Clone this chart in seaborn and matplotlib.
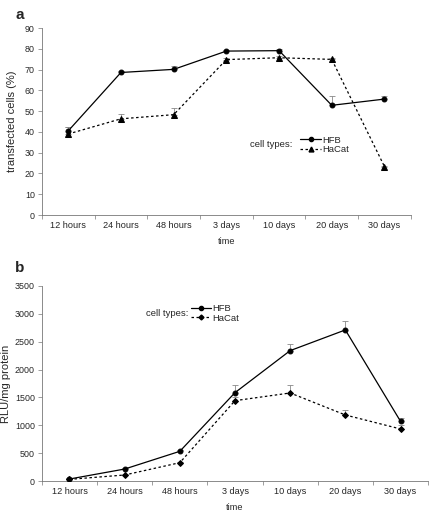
import numpy as np
import pandas as pd
import seaborn as sns
import matplotlib
matplotlib.use('Agg')
import matplotlib.pyplot as plt
from matplotlib.lines import Line2D

# data
time_labels = ['12 hours', '24 hours', '48 hours', '3 days', '10 days', '20 days', '30 days']

# panel a: transfected cells (%)
a_hfb = [40.5, 68.6, 70.1, 78.9, 79.1, 52.8, 55.8]
a_hfb_err = [2.0, 0.8, 1.5, 0.6, 0.9, 4.6, 1.3]
a_hacat = [39.0, 46.3, 48.3, 74.8, 75.7, 74.9, 23.3]
a_hacat_err = [3.3, 2.3, 3.2, 1.0, 1.0, 0.5, 0.5]

# panel b: RLU/mg protein
b_hfb = [36, 215, 533, 1586, 2340, 2711, 1071]
b_hfb_err = [10, 20, 30, 137, 125, 161, 60]
b_hacat = [30, 108, 329, 1442, 1580, 1185, 934]
b_hacat_err = [5, 10, 20, 60, 143, 95, 70]

sns.set_style('ticks')
plt.rcParams['font.family'] = ['Liberation Sans', 'DejaVu Sans']

fig = plt.figure(figsize=(4.32, 5.16), dpi=100)
ax_a = fig.add_axes([0.097, 0.5833, 0.854, 0.3624])
ax_b = fig.add_axes([0.097, 0.0678, 0.894, 0.378])


def draw_panel(ax, hfb, hfb_err, hacat, hacat_err, hacat_marker, hacat_ms):
    df = pd.DataFrame({'time': time_labels, 'HFB': hfb, 'HaCat': hacat})
    x = np.arange(len(time_labels))
    # only the upper half of the error bars is shown
    ax.errorbar(x, hfb, yerr=[np.zeros(len(x)), hfb_err], fmt='none',
                ecolor='#888888', elinewidth=0.6, capsize=2, capthick=0.6, zorder=1)
    ax.errorbar(x, hacat, yerr=[np.zeros(len(x)), hacat_err], fmt='none',
                ecolor='#888888', elinewidth=0.6, capsize=2, capthick=0.6, zorder=1)
    sns.lineplot(data=df, x='time', y='HFB', ax=ax, color='black', lw=0.9,
                 marker='o', markersize=3.5, markeredgecolor='black', sort=False, zorder=3)
    sns.lineplot(data=df, x='time', y='HaCat', ax=ax, color='black', lw=0.9,
                 linestyle=(0, (2, 2)), marker=hacat_marker, markersize=hacat_ms,
                 markeredgecolor='black', sort=False, zorder=3)
    ax.set_xlim(-0.5, len(time_labels) - 0.5)
    ax.set_xticks(x)
    ax.set_xticklabels(time_labels, fontsize=6.6)
    ax.set_xticks(np.arange(-0.5, len(time_labels)), minor=True)
    ax.tick_params(axis='x', which='major', length=0, pad=4)
    ax.tick_params(axis='x', which='minor', length=3, width=0.5, color='#777777')
    ax.tick_params(axis='y', labelsize=6.4, length=3, width=0.5, color='#777777', pad=2)
    ax.set_xlabel('time', fontsize=6.6, labelpad=5)
    for s in ['top', 'right']:
        ax.spines[s].set_visible(False)
    for s in ['left', 'bottom']:
        ax.spines[s].set_linewidth(0.6)
        ax.spines[s].set_color('#777777')


def cell_types(ax, xy_title, xy_leg, hacat_marker, hacat_ms):
    ax.text(xy_title[0], xy_title[1], 'cell types:', transform=ax.transAxes,
            fontsize=6.8, va='center', ha='left')
    handles = [
        Line2D([], [], color='black', lw=0.9, marker='o', markersize=3),
        Line2D([], [], color='black', lw=0.9, linestyle=(0, (2, 2)),
               marker=hacat_marker, markersize=hacat_ms),
    ]
    ax.legend(handles, ['HFB', 'HaCat'], loc='center left', bbox_to_anchor=xy_leg,
              frameon=False, fontsize=6.8, handlelength=2.2, handletextpad=0.1,
              labelspacing=0.05, borderpad=0, borderaxespad=0)


draw_panel(ax_a, a_hfb, a_hfb_err, a_hacat, a_hacat_err, '^', 5)
ax_a.set_ylim(0, 90)
ax_a.set_yticks(np.arange(0, 91, 10))
ax_a.set_ylabel('transfected cells (%)', fontsize=8, labelpad=6)
cell_types(ax_a, (0.565, 0.375), (0.70, 0.375), '^', 3.5)

draw_panel(ax_b, b_hfb, b_hfb_err, b_hacat, b_hacat_err, 'D', 3)
ax_b.set_ylim(0, 3500)
ax_b.set_yticks(np.arange(0, 3501, 500))
ax_b.set_ylabel('RLU/mg protein', fontsize=8, labelpad=3)
cell_types(ax_b, (0.27, 0.86), (0.385, 0.86), 'D', 2.5)

fig.text(0.035, 0.985, 'a', fontsize=11, fontweight='bold', va='top')
fig.text(0.035, 0.494, 'b', fontsize=11, fontweight='bold', va='top')

fig.savefig('out.png', dpi=100)
